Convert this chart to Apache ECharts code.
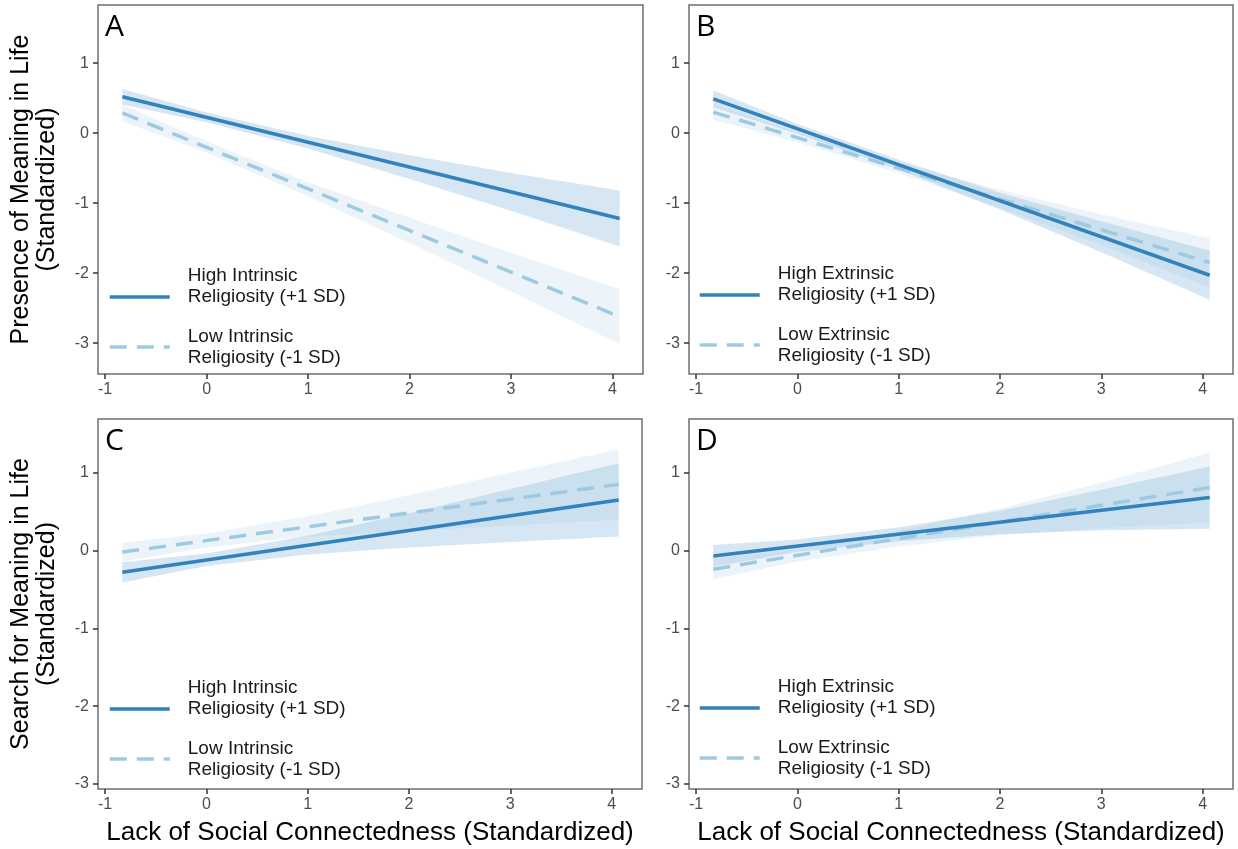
<!DOCTYPE html>
<html>
<head>
<meta charset="utf-8">
<script src="https://cdn.jsdelivr.net/npm/echarts@6/dist/echarts.min.js"></script>
<style>
html,body{margin:0;padding:0;background:#fff;}
#chart{width:1238px;height:849px;}
</style>
</head>
<body>
<div id="chart"></div>
<script>
// ---------------- DATA ----------------
const xTicks = [-1, 0, 1, 2, 3, 4];
const yTicks = [-3, -2, -1, 0, 1];
const lineX = [-0.83, 4.07];                 // start / end of fitted lines
const bandX = [-0.83, 0, 1, 2, 3, 4.07];     // x positions of the CI band

// Panel A  (Presence, intrinsic)
const aHighLine  = [0.52, -1.22];
const aHighUpper = [0.63, 0.295, -0.04, -0.315, -0.57, -0.82];
const aHighLower = [0.41, 0.155, -0.22, -0.655, -1.11, -1.62];
const aLowLine   = [0.29, -2.62];
const aLowUpper  = [0.41, -0.12, -0.70, -1.21, -1.71, -2.23];
const aLowLower  = [0.17, -0.28, -0.90, -1.57, -2.26, -3.01];

// Panel B  (Presence, extrinsic)
const bHighLine  = [0.49, -2.03];
const bHighUpper = [0.61, 0.13, -0.38, -0.85, -1.26, -1.68];
const bHighLower = [0.37, -0.01, -0.52, -1.09, -1.70, -2.38];
const bLowLine   = [0.30, -1.85];
const bLowUpper  = [0.41, 0.01, -0.43, -0.81, -1.16, -1.50];
const bLowLower  = [0.19, -0.13, -0.57, -1.07, -1.60, -2.20];

// Panel C  (Search, intrinsic)
const cHighLine  = [-0.28, 0.65];
const cHighUpper = [-0.15, -0.04, 0.19, 0.48, 0.79, 1.12];
const cHighLower = [-0.41, -0.20, -0.05, 0.04, 0.11, 0.18];
const cLowLine   = [-0.02, 0.85];
const cLowUpper  = [0.10, 0.22, 0.44, 0.71, 1.00, 1.30];
const cLowLower  = [-0.14, 0.04, 0.18, 0.25, 0.32, 0.40];

// Panel D  (Search, extrinsic)
const dHighLine  = [-0.07, 0.68];
const dHighUpper = [0.07, 0.14, 0.30, 0.51, 0.78, 1.08];
const dHighLower = [-0.21, -0.02, 0.12, 0.21, 0.26, 0.28];
const dLowLine   = [-0.24, 0.81];
const dLowUpper  = [-0.11, 0.02, 0.25, 0.54, 0.87, 1.26];
const dLowLower  = [-0.37, -0.14, 0.05, 0.20, 0.29, 0.36];

const highIntrinsic = 'High Intrinsic\nReligiosity (+1 SD)';
const lowIntrinsic  = 'Low Intrinsic\nReligiosity (-1 SD)';
const highExtrinsic = 'High Extrinsic\nReligiosity (+1 SD)';
const lowExtrinsic  = 'Low Extrinsic\nReligiosity (-1 SD)';
const presenceTitle = 'Presence of Meaning in Life\n(Standardized)';
const searchTitle   = 'Search for Meaning in Life\n(Standardized)';
const xTitle        = 'Lack of Social Connectedness (Standardized)';

// ---------------- STYLE / LAYOUT ----------------
const HIGH_COLOR = '#3182bd';
const LOW_COLOR  = '#9ecae1';
const HIGH_FILL  = 'rgba(49,130,189,0.2)';
const LOW_FILL   = 'rgba(158,202,225,0.2)';
const FONT = '"Liberation Sans", Arial, sans-serif';

const panels = [
  {letter:'A', grid:{left:98, top:5, width:545, height:369}, xRange:[-1.07, 4.3], yRange:[-3.44, 1.83],
   high:[aHighLine, aHighUpper, aHighLower], low:[aLowLine, aLowUpper, aLowLower],
   names:[highIntrinsic, lowIntrinsic], yName:presenceTitle, xName:'', legend:{left:108, top:265.5}},
  {letter:'B', grid:{left:689, top:5, width:544, height:369}, xRange:[-1.07, 4.3], yRange:[-3.44, 1.83],
   high:[bHighLine, bHighUpper, bHighLower], low:[bLowLine, bLowUpper, bLowLower],
   names:[highExtrinsic, lowExtrinsic], yName:'', xName:'', legend:{left:698, top:263.5}},
  {letter:'C', grid:{left:98, top:419, width:544, height:370}, xRange:[-1.07, 4.3], yRange:[-3.065, 1.69],
   high:[cHighLine, cHighUpper, cHighLower], low:[cLowLine, cLowUpper, cLowLower],
   names:[highIntrinsic, lowIntrinsic], yName:searchTitle, xName:xTitle, legend:{left:108, top:677.5}},
  {letter:'D', grid:{left:689, top:419, width:544, height:370}, xRange:[-1.07, 4.3], yRange:[-3.065, 1.69],
   high:[dHighLine, dHighUpper, dHighLower], low:[dLowLine, dLowUpper, dLowLower],
   names:[highExtrinsic, lowExtrinsic], yName:'', xName:xTitle, legend:{left:698, top:676.5}}
];

const grids = [], xAxes = [], yAxes = [], series = [], legends = [], graphics = [];

function pairs(xs, ys) { return xs.map((x, i) => [x, ys[i]]); }

function bandSeries(i, upper, lower, fill) {
  return {
    type:'custom', xAxisIndex:i, yAxisIndex:i, silent:true, clip:true, z:1,
    data: bandX.map((x, k) => [x, lower[k], upper[k]]),
    encode:{x:0, y:[1, 2]},
    renderItem: function (params, api) {
      if (params.dataIndex !== 0) return null;
      const pts = [];
      for (let k = 0; k < bandX.length; k++) pts.push(api.coord([bandX[k], upper[k]]));
      for (let k = bandX.length - 1; k >= 0; k--) pts.push(api.coord([bandX[k], lower[k]]));
      return {type:'polygon', shape:{points:pts}, style:{fill:fill, stroke:null}};
    }
  };
}

panels.forEach((p, i) => {
  grids.push(Object.assign({show:true, borderColor:'#6f6f6f', borderWidth:1.5, backgroundColor:'transparent', containLabel:false}, p.grid));
  xAxes.push({
    type:'value', gridIndex:i, min:p.xRange[0], max:p.xRange[1],
    splitLine:{show:false}, axisLine:{show:false, onZero:false},
    axisTick:{show:true, length:5, lineStyle:{color:'#333', width:1.5}, customValues:xTicks},
    axisLabel:{fontSize:16, color:'#4d4d4d', fontFamily:FONT, margin:8, customValues:xTicks},
    name:p.xName, nameLocation:'middle', nameGap:31,
    nameTextStyle:{fontSize:26, color:'#000', fontFamily:FONT}
  });
  yAxes.push({
    type:'value', gridIndex:i, min:p.yRange[0], max:p.yRange[1],
    splitLine:{show:false}, axisLine:{show:false, onZero:false},
    axisTick:{show:true, length:5, lineStyle:{color:'#333', width:1.5}, customValues:yTicks},
    axisLabel:{fontSize:16, color:'#4d4d4d', fontFamily:FONT, margin:9, customValues:yTicks},
    name:p.yName, nameLocation:'middle', nameGap:38, nameRotate:90,
    nameTextStyle:{fontSize:25, lineHeight:26, color:'#000', fontFamily:FONT}
  });

  series.push(bandSeries(i, p.high[1], p.high[2], HIGH_FILL));
  series.push(bandSeries(i, p.low[1], p.low[2], LOW_FILL));
  // fitted lines
  series.push({type:'line', name:p.names[1], xAxisIndex:i, yAxisIndex:i, data:pairs(lineX, p.low[0]),
    symbol:'none', lineStyle:{color:LOW_COLOR, width:3.5, type:[17, 10]}, itemStyle:{color:LOW_COLOR}, z:3});
  series.push({type:'line', name:p.names[0], xAxisIndex:i, yAxisIndex:i, data:pairs(lineX, p.high[0]),
    symbol:'none', lineStyle:{color:HIGH_COLOR, width:3.5}, itemStyle:{color:HIGH_COLOR}, z:4});

  const firstName = p.names[0];
  legends.push({
    orient:'vertical', left:p.legend.left, top:p.legend.top, padding:0, itemGap:-2.5,
    itemWidth:60, itemHeight:14, selectedMode:false,
    itemStyle:{opacity:0},
    lineStyle:{width:3.5},
    formatter: function (name) { return name === firstName ? name + '\n ' : name; },
    textStyle:{fontSize:19, lineHeight:21, color:'#1a1a1a', fontFamily:FONT, padding:[0,0,0,13]},
    data:[p.names[0], p.names[1]]
  });

  graphics.push({type:'text', x:p.grid.left + 7, y:p.grid.top + 22,
    style:{text:p.letter, font:'30px "Open Sans", sans-serif', fill:'#000', verticalAlign:'middle'}});
});

const chart = echarts.init(document.getElementById('chart'), null, {renderer:'canvas'});
chart.setOption({
  animation:false,
  backgroundColor:'#fff',
  grid:grids, xAxis:xAxes, yAxis:yAxes, series:series, legend:legends, graphic:graphics
});
</script>
</body>
</html>
